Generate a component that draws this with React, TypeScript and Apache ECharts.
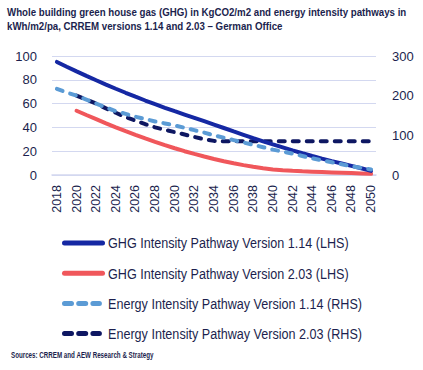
import React, { useEffect, useRef } from "react";
import * as echarts from "echarts";

const years = [
  "2018","2019","2020","2021","2022","2023","2024","2025","2026","2027","2028",
  "2029","2030","2031","2032","2033","2034","2035","2036","2037","2038","2039",
  "2040","2041","2042","2043","2044","2045","2046","2047","2048","2049","2050",
];

const ghg114 = [
  95, 91, 87.1, 83.3, 79.6, 76, 72.5, 69.1, 65.8, 62.6, 59.5,
  56.5, 53.6, 50.8, 48, 45.2, 42.4, 39.5, 36.6, 33.8, 31, 28.3,
  25.7, 23.2, 20.7, 18.3, 16, 13.8, 11.7, 9.7, 7.7, 5.7, 3.5,
];

const ghg203 = [
  null, null, 54, 50.4, 46.9, 43.4, 40.1, 36.9, 33.8, 30.8, 27.9,
  25.1, 22.5, 20, 17.7, 15.5, 13.5, 11.6, 9.9, 8.3, 6.9, 5.7,
  4.7, 4.0, 3.5, 3.1, 2.8, 2.5, 2.2, 1.9, 1.6, 1.3, 1.0,
];

const energy114 = [
  217, 208, 200, 190, 180, 170, 161, 154, 147, 141, 135,
  130, 125, 119, 113, 107, 100, 94, 88, 82, 76, 70,
  64, 59, 54, 48, 42, 37, 32, 27, 22, 18, 14,
];

const energy203 = [
  null, null, 200, 190, 180, 168, 157, 146, 137, 128, 120,
  114, 108, 102, 96, 90, 86, 85, 85, 85, 85, 85,
  85, 85, 85, 85, 85, 85, 85, 85, 85, 85, 85,
];

const seriesNames = [
  "GHG Intensity Pathway Version 1.14 (LHS)",
  "GHG Intensity Pathway Version 2.03 (LHS)",
  "Energy Intensity Pathway Version 1.14 (RHS)",
  "Energy Intensity Pathway Version 2.03 (RHS)",
];
const seriesColors = ["#1528a3", "#f0575b", "#5b9bd5", "#0e1762"];
const seriesDashed = [false, false, true, true];

const leftTicks = { min: 0, max: 100, interval: 20 };
const rightTicks = { min: 0, max: 300, interval: 100 };

const titleLines = [
  "Whole building green house gas (GHG) in KgCO2/m2 and energy intensity pathways in",
  "kWh/m2/pa, CRREM versions 1.14 and 2.03 \u2013 German Office",
];
const sourceText = "Sources: CRREM and AEW Research & Strategy";

const SANS = "'Liberation Sans', Arial, sans-serif";
const TEXT = "#1c1f4e";
const GRID = "#d3d8f0";

function measure(text: string, font: string): number {
  const c = document.createElement("canvas").getContext("2d");
  if (!c) return text.length * 7;
  c.font = font;
  return c.measureText(text).width;
}

export default function App() {
  const ref = useRef<HTMLDivElement>(null);
  useEffect(() => {
    if (!ref.current) return;
    const chart = echarts.init(ref.current, null, { renderer: "svg" });

    const titleSize = 11.5;
    const titleScale = 400 / measure(titleLines[0], `bold ${titleSize}px "Liberation Sans"`);
    const srcSize = 8.5;
    const srcScale = 143 / measure(sourceText, `bold ${srcSize}px "Liberation Sans"`);
    const legSize = 15.5;
    const legScale = 241 / measure(seriesNames[0], `${legSize}px "Liberation Sans"`);

    const graphics: any[] = [];
    titleLines.forEach((t, i) => {
      graphics.push({
        type: "text",
        x: 7,
        y: 11.5 + i * 14,
        scaleX: titleScale,
        style: {
          text: t,
          x: 0,
          y: 0,
          fontFamily: SANS,
          fontWeight: "bold",
          fontSize: titleSize,
          fill: TEXT,
          verticalAlign: "middle",
        },
      });
    });
    graphics.push({
      type: "text",
      x: 11,
      y: 355,
      scaleX: srcScale,
      style: {
        text: sourceText,
        x: 0,
        y: 0,
        fontFamily: SANS,
        fontWeight: "bold",
        fontSize: srcSize,
        fill: TEXT,
        verticalAlign: "middle",
      },
    });
    seriesNames.forEach((name, i) => {
      const yc = 243 + i * 30.2;
      graphics.push({
        type: "line",
        shape: { x1: 64.5, y1: yc, x2: seriesDashed[i] ? 99.4 : 102.5, y2: yc },
        style: {
          stroke: seriesColors[i],
          lineWidth: 5,
          lineCap: "round",
          lineDash: seriesDashed[i] ? [7, 7.2] : null,
        },
      });
      graphics.push({
        type: "text",
        x: 108,
        y: yc,
        scaleX: legScale,
        style: {
          text: name,
          x: 0,
          y: 0,
          fontFamily: SANS,
          fontSize: legSize,
          fill: TEXT,
          verticalAlign: "middle",
        },
      });
    });

    const dataSets = [ghg114, ghg203, energy114, energy203];
    const axisIdx = [0, 0, 1, 1];
    const zs = [4, 3, 5, 2];

    chart.setOption({
      animation: false,
      graphic: graphics,
      grid: { left: 52, right: 47, top: 56, bottom: 195, containLabel: false },
      xAxis: {
        type: "category",
        data: years,
        boundaryGap: true,
        axisLine: { lineStyle: { color: GRID, width: 1.5 } },
        axisTick: { show: false },
        axisLabel: {
          interval: 1,
          rotate: 90,
          margin: 10,
          fontFamily: SANS,
          fontSize: 12.5,
          color: TEXT,
        },
      },
      yAxis: [
        {
          type: "value",
          ...leftTicks,
          axisLine: { show: false },
          axisTick: { show: false },
          splitLine: { lineStyle: { color: GRID, width: 1 } },
          axisLabel: { margin: 15, fontFamily: SANS, fontSize: 13, color: TEXT },
        },
        {
          type: "value",
          position: "right",
          ...rightTicks,
          axisLine: { show: false },
          axisTick: { show: false },
          splitLine: { show: false },
          axisLabel: { margin: 16, fontFamily: SANS, fontSize: 13, color: TEXT },
        },
      ],
      series: seriesNames.map((name, i) => ({
        name,
        type: "line",
        yAxisIndex: axisIdx[i],
        data: dataSets[i],
        symbol: "none",
        color: seriesColors[i],
        lineStyle: seriesDashed[i]
          ? { width: 4, type: [6, 8], cap: "round" }
          : { width: 4, cap: "round" },
        z: zs[i],
      })),
    });
    return () => chart.dispose();
  }, []);
  return (
    <div
      ref={ref}
      style={{ position: "fixed", left: 0, top: 0, width: 423, height: 370, background: "#fff" }}
    />
  );
}
